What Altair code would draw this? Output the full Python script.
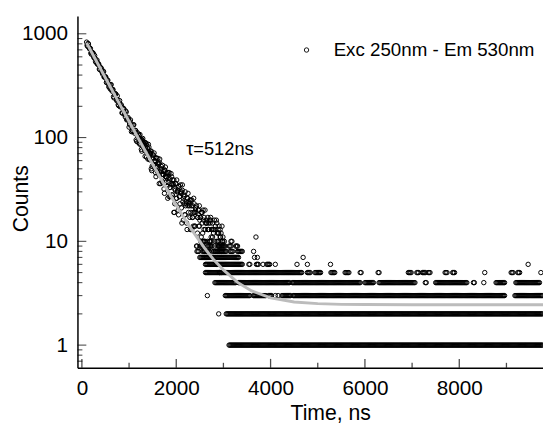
import altair as alt
import pandas as pd

FONT = "Liberation Sans"

# ---- decay region: counts per 20-ns channel (three interleaved channel sets)
channel_ns = 20
decay_start_a = 100
decay_counts_a = [831, 757, 796, 718, 720, 636, 651, 648, 584, 582, 530, 558, 509, 504, 451, 472,
                  438, 409, 430, 383, 387, 339, 354, 330, 327, 294, 324, 280, 289, 241, 257, 262,
                  226, 231, 203, 227, 200, 202, 172, 191, 173, 158, 176, 150, 156, 126, 142, 129,
                  132, 114, 133, 110, 117, 92, 103, 108, 88, 93, 77, 94, 81, 85, 66, 82, 72, 62,
                  81, 61, 70, 48, 62, 54, 59, 46, 63, 47, 55, 36, 47, 53, 38, 44, 32, 48, 37, 41,
                  26, 41, 33, 27, 42, 28, 35, 19, 31, 26, 30, 20, 34, 23, 29, 15, 24, 28, 18, 22,
                  15, 26, 19, 22, 13, 22, 17, 14, 23, 14, 19, 9, 17, 14, 16, 10, 19, 12, 16, 8,
                  13, 16, 10, 13, 8, 15, 11, 13, 7, 13, 10, 8, 15, 9, 12, 5, 11, 8, 10]
decay_start_b = 110
decay_counts_b = [776, 807, 736, 729, 652, 667, 657, 599, 618, 540, 546, 509, 517, 457, 473, 465,
                  424, 438, 383, 382, 377, 347, 357, 308, 306, 322, 289, 292, 248, 265, 265, 233,
                  252, 207, 216, 198, 208, 173, 189, 189, 166, 180, 148, 151, 151, 135, 148, 114,
                  117, 132, 114, 117, 95, 112, 90, 97, 86, 96, 74, 86, 91, 75, 89, 65, 71, 73,
                  62, 74, 50, 53, 68, 55, 59, 42, 53, 57, 44, 57, 36, 44, 37, 47, 29, 42, 45, 34,
                  46, 27, 33, 36, 28, 39, 19, 23, 36, 26, 30, 18, 27, 30, 21, 31, 16, 23, 18, 24,
                  13, 22, 24, 17, 25, 13, 17, 19, 14, 21, 9, 12, 20, 14, 17, 11, 19, 9, 13, 10,
                  15, 7, 13, 15, 10, 16, 8, 11, 13, 9, 14, 6, 8, 13, 9, 13, 5, 10, 10]
decay_start_c = 1210
decay_counts_c = [105, 107, 93, 96, 98, 88, 90, 78, 87, 79, 86, 71, 71, 74, 64, 68, 71, 60, 64,
                  53, 63, 56, 62, 49, 50, 54, 44, 49, 52, 42, 46, 37, 46, 40, 45, 35, 36, 39, 32,
                  36, 39, 31, 34, 27, 35, 30, 35, 26, 27, 30, 23, 26, 29, 23, 25, 19, 25, 22, 26,
                  19, 20, 22, 17, 20, 22, 17, 19, 15, 20, 17, 20, 15, 15, 17, 13, 16, 17, 13, 15,
                  12, 16, 13, 16, 12, 12, 14, 11, 12, 14, 11]

# ---- background / tail: runs (start ns, end ns) of occupied 20-ns channels per integer count level
level_runs = {
    1: [(3120, 9760)],
    2: [(2900, 2900), (3060, 9760)],
    3: [(2660, 2660), (3040, 3560), (3640, 3900), (3960, 4020), (4100, 4100), (4160, 4160),
        (4240, 4420), (4480, 8960), (9180, 9760)],
    4: [(2820, 3260), (3320, 4400), (4460, 5900), (6000, 6180), (6300, 7060), (7280, 7300),
        (7500, 8170), (8300, 8320), (8520, 8520), (8780, 8960), (9200, 9700)],
    5: [(2620, 4670), (4780, 4840), (4940, 5060), (5280, 5360), (5580, 5660), (5900, 5920),
        (6280, 6300), (6920, 6980), (7100, 7140), (7220, 7280), (7340, 7380), (7700, 7740),
        (7860, 7900), (8540, 8540), (9100, 9140), (9240, 9280), (9730, 9730)],
    6: [(2620, 3400), (3540, 3560), (3700, 3740), (3840, 3840), (3920, 3980), (4100, 4100),
        (4560, 4560), (4780, 4780), (5270, 5270), (9460, 9460)],
    7: [(2500, 3330), (3660, 3660), (3720, 3720), (4690, 4690)],
    8: [(2440, 2480), (2560, 2700), (2800, 3060), (3140, 3200), (3300, 3400), (3640, 3640)],
    9: [(2500, 2560), (2660, 2760), (2900, 3040), (3120, 3160), (3260, 3300)],
    10: [(2560, 2600), (2700, 2740), (2860, 2900), (3020, 3020), (3160, 3180)],
    11: [(3690, 3690)],
}

# ---- single-exponential fit curve (tau = 512 ns)
fit_t = [100, 200, 300, 400, 500, 600, 700, 800, 900, 1000, 1200, 1400, 1600, 1800, 2000,
         2200, 2400, 2600, 2800, 3000, 3300, 3600, 4000, 4500, 5000, 5500, 6000, 7000, 8000,
         9000, 9775]
fit_counts = [816.8, 672.3, 553.5, 455.7, 375.3, 309.2, 254.7, 210.0, 173.1, 142.9, 97.5, 66.8,
              45.9, 31.9, 22.3, 15.9, 11.6, 8.6, 6.6, 5.3, 4.02, 3.33, 2.85, 2.60, 2.51, 2.47,
              2.46, 2.45, 2.45, 2.45, 2.45]

# ---- axes
X_MIN, X_MAX = -94, 9775
Y_MIN, Y_MAX = 0.605, 1483
x_major = [0, 2000, 4000, 6000, 8000]
x_minor = [1000, 3000, 5000, 7000, 9000]
y_major = [1, 10, 100, 1000]
y_minor = [0.7, 0.8, 0.9, 2, 3, 4, 5, 6, 7, 8, 9, 20, 30, 40, 50, 60, 70, 80, 90,
           200, 300, 400, 500, 600, 700, 800, 900]

series_name = "Exc 250nm - Em 530nm"
tau_label = ["τ=512ns"]
tau_t = [2210]
tau_counts = [77]

# ---- build tables
rows = []
for start, counts in ((decay_start_a, decay_counts_a), (decay_start_b, decay_counts_b),
                      (decay_start_c, decay_counts_c)):
    for i, c in enumerate(counts):
        rows.append((start + i * channel_ns, c))
for level, runs in level_runs.items():
    for a, b in runs:
        for t in range(a, b + 1, channel_ns):
            rows.append((t, level))
pts = pd.DataFrame(rows, columns=["t", "counts"])
pts["series"] = series_name

fit_df = pd.DataFrame({"t": fit_t, "counts": fit_counts})
ann_df = pd.DataFrame({"t": tau_t, "counts": tau_counts, "label": tau_label})

xs = alt.Scale(domain=[X_MIN, X_MAX], nice=False, zero=False)
ys = alt.Scale(type="log", domain=[Y_MIN, Y_MAX], nice=False)

points = alt.Chart(pts).mark_point(
    shape="circle", filled=False, size=20, strokeWidth=1.0, opacity=1, clip=True
).encode(
    x=alt.X("t:Q", scale=xs, axis=alt.Axis(
        orient="bottom", values=x_major, format="d", ticks=False, tickSize=0,
        labelPadding=10, labelFontSize=21, labelFont=FONT, labelColor="black",
        domainColor="black", domainWidth=1.5, grid=False,
        title="Time, ns", titleFont=FONT, titleFontSize=21.5, titleFontWeight="normal",
        titleColor="black", titleX=256.5, titleY=53, titleBaseline="alphabetic")),
    y=alt.Y("counts:Q", scale=ys, axis=alt.Axis(
        orient="left", values=y_major, format="d", ticks=False, tickSize=0,
        labelPadding=10, labelFontSize=21, labelFont=FONT, labelColor="black",
        domainColor="black", domainWidth=1.5, grid=False,
        title="Counts", titleFont=FONT, titleFontSize=21.5, titleFontWeight="normal",
        titleColor="black", titleX=-51, titleY=185, titleBaseline="alphabetic",
        titleAngle=270)),
    color=alt.Color("series:N", scale=alt.Scale(range=["black"]), legend=alt.Legend(
        orient="none", legendX=223, legendY=25, title=None, padding=0,
        labelFont=FONT, labelFontSize=19, labelColor="black", labelOffset=18, labelLimit=0,
        symbolType="circle", symbolSize=20, symbolStrokeWidth=0.9)),
)

fit = alt.Chart(fit_df).mark_line(color="#bcbcbc", strokeWidth=3, clip=True).encode(
    x=alt.X("t:Q", scale=xs, axis=None),
    y=alt.Y("counts:Q", scale=ys, axis=None),
)

ann = alt.Chart(ann_df).mark_text(
    align="left", baseline="middle", font=FONT, fontSize=18.5, color="black"
).encode(
    x=alt.X("t:Q", scale=xs, axis=None),
    y=alt.Y("counts:Q", scale=ys, axis=None),
    text="label:N",
)


def x_ticks(vals, length):
    df = pd.DataFrame({"v": vals})
    return alt.Chart(df).mark_tick(
        orient="vertical", size=length, thickness=1.3, color="black", yOffset=-length / 2
    ).encode(
        x=alt.X("v:Q", scale=xs, axis=None),
        y=alt.YDatum(Y_MIN, scale=ys, axis=None),
    )


def y_ticks(vals, length):
    df = pd.DataFrame({"v": vals})
    return alt.Chart(df).mark_tick(
        orient="horizontal", size=length, thickness=1.1, color="black", xOffset=length / 2
    ).encode(
        x=alt.XDatum(X_MIN, scale=xs, axis=None),
        y=alt.Y("v:Q", scale=ys, axis=None),
    )


chart = alt.layer(
    points, fit, ann,
    x_ticks(x_major, 9), x_ticks(x_minor, 5),
    y_ticks(y_major, 9), y_ticks(y_minor, 5),
).resolve_axis(
    x="independent", y="independent"
).properties(
    width=472.5, height=357,
    autosize=alt.AutoSizeParams(type="none"),
    padding={"left": 70.5, "top": 5, "right": 0, "bottom": 58},
).configure_view(stroke=None)

chart.save("out.html", embed_options={"renderer": "svg", "actions": False})
